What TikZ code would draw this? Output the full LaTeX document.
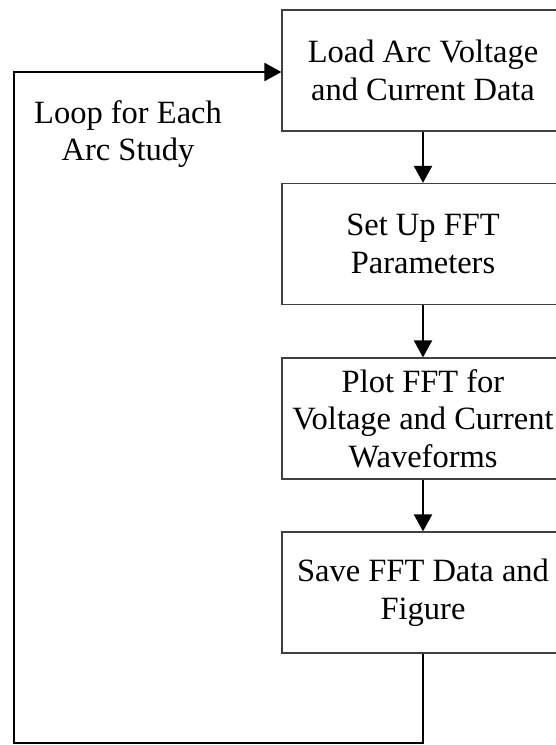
\documentclass[tikz,border=0pt]{standalone}
\usepackage{fontspec}
\setmainfont{Liberation Serif}
\usetikzlibrary{arrows.meta,calc}
\begin{document}
\begin{tikzpicture}[x=1pt,y=-1pt,
  stepbox/.style={draw=black!75, line width=1.2pt, minimum width=282pt,
    minimum height=121pt, inner sep=0pt, align=center,
    font=\fontsize{32.5pt}{37.5pt}\selectfont},
  flow/.style={line width=2.2pt, -{Triangle[length=17pt,width=18pt]}},
  loopline/.style={line width=2.2pt}]
\useasboundingbox (0,0) rectangle (556,745);
\clip (0,0) rectangle (556,745);
\fill[white] (0,0) rectangle (556,745);

\node[stepbox] (load) at (423,70.5) {Load Arc Voltage\\and Current Data};
\node[stepbox] (fftset) at (423,244) {Set Up FFT\\Parameters};
\node[stepbox] (plot) at (423,418.5) {Plot FFT for\\Voltage and Current\\Waveforms};
\node[stepbox] (save) at (423,592.5) {Save FFT Data and\\Figure};

\node[align=center, font=\fontsize{32.5pt}{37.5pt}\selectfont] (looplabel) at (128,134) {Loop for Each\\Arc Study};

\draw[flow] (load) -- (fftset);
\draw[flow] (fftset) -- (plot);
\draw[flow] (plot) -- (save);

\coordinate (lowright) at (423,743);
\coordinate (lowleft) at (14,743);
\coordinate (upleft) at (14,72);
\draw[loopline, line join=miter] (save.south) -- (lowright) -- (lowleft) -- (upleft)
  [flow] -- (upleft -| load.west);
\end{tikzpicture}
\end{document}
